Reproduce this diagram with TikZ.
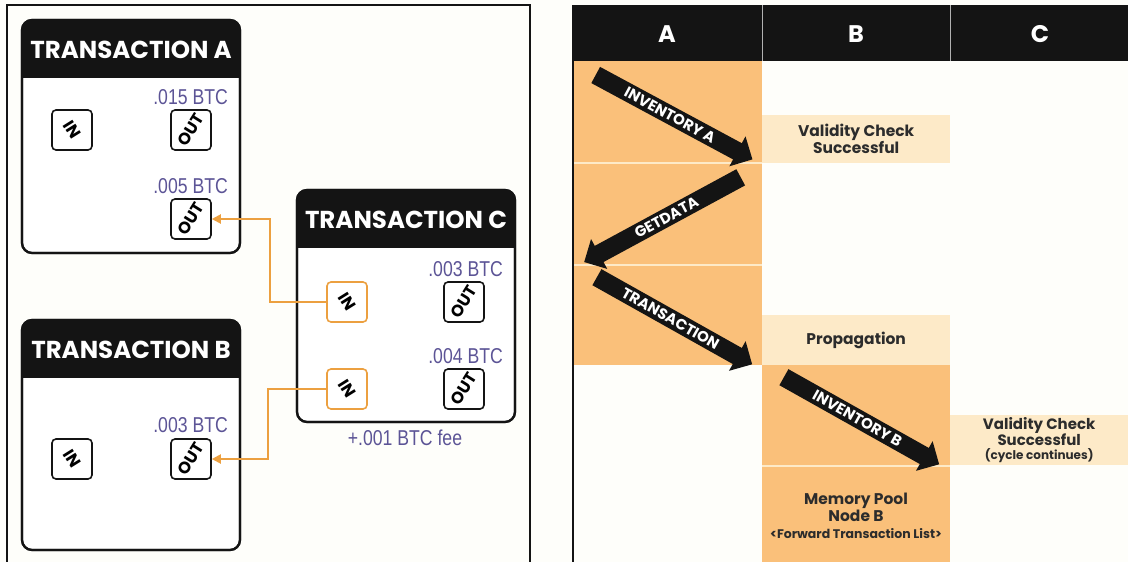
\documentclass[tikz,border=0pt]{standalone}
\usepackage{fontspec}
\setmainfont{Poppins}
\newfontfamily\btcfont[FakeStretch=0.82]{Liberation Sans}
\usetikzlibrary{shapes.arrows,arrows.meta,calc}
\definecolor{bgc}{RGB}{254,254,250}
\definecolor{cellor}{RGB}{250,192,122}
\definecolor{pale}{RGB}{253,234,200}
\definecolor{btc}{RGB}{92,84,150}
\definecolor{orangeln}{RGB}{236,160,64}
\definecolor{ink}{RGB}{20,20,20}
\newcommand\maketx[6]{%
  \node[txbox, minimum width=#4pt, minimum height=#5pt] (#1) at (#2,#3) {};
  \begin{scope}
    \clip[rounded corners=10pt] (#1.north west) rectangle (#1.south east);
    \fill[ink] (#1.north west) rectangle ([yshift=-58pt]#1.north east);
  \end{scope}
  \draw[line width=2.2pt, ink, rounded corners=10pt] (#1.north west) rectangle (#1.south east);
  \node[txtitle] at ([yshift=-30pt]#1.north) {#6};}
\begin{document}
\begin{tikzpicture}[x=1pt,y=-1pt,
  txbox/.style={draw=ink, line width=2.2pt, fill=white, rounded corners=10pt, outer sep=0pt, inner sep=0pt, anchor=north west},
  txtitle/.style={text=white, font=\bfseries\fontsize{24.5}{24.5}\selectfont},
  port/.style={draw=ink, line width=1.6pt, rounded corners=4pt, minimum size=40pt, inner sep=0pt, fill=white, font=\bfseries\fontsize{16.5}{16.5}\selectfont},
  oport/.style={port, draw=orangeln},
  btclab/.style={text=btc, font=\btcfont\fontsize{21.5}{21.5}\selectfont, anchor=base east, inner sep=0pt},
  wire/.style={draw=orangeln, line width=2pt, -{Triangle[length=9pt,width=9pt]}},
  palecell/.style={fill=pale, anchor=north west, inner sep=0pt, align=center, text=ink!90, font=\bfseries\fontsize{15.5}{16}\selectfont},
  colhead/.style={text=white, font=\bfseries\fontsize{24}{24}\selectfont},
  bigarrow/.style={single arrow, fill=ink, text=white, font=\bfseries\fontsize{15}{15}\selectfont, minimum height=178pt, minimum width=34pt, single arrow head extend=6pt, single arrow head indent=0pt, inner sep=1.5pt, sloped, midway},
]
\useasboundingbox (0,0) rectangle (1128,562);
\fill[bgc] (0,0) rectangle (1128,562);

% ---------------- left panel ----------------
\draw[ink, line width=2pt] (7,562) -- (7,5) -- (530,5) -- (530,562);

\maketx{TA}{22}{20}{218}{233}{TRANSACTION A}
\maketx{TB}{22}{320}{218}{230}{TRANSACTION B}
\maketx{TC}{297}{190}{218}{232}{TRANSACTION C}

\node[port] (AIn) at (72,130) {\rotatebox{-58}{IN}};
\node[port] (AO1) at (191,130) {\rotatebox{58}{OUT}};
\node[port] (AO2) at (191,219) {\rotatebox{58}{OUT}};
\node[btclab] (LA1) at (228,104) {.015 BTC};
\node[btclab] (LA2) at (228,193) {.005 BTC};

\node[port] (BIn) at (72,459) {\rotatebox{-58}{IN}};
\node[port] (BO) at (191,459) {\rotatebox{58}{OUT}};
\node[btclab] (LB1) at (228,432) {.003 BTC};

\node[oport] (CI1) at (347,302) {\rotatebox{-58}{IN}};
\node[oport] (CI2) at (347,389) {\rotatebox{-58}{IN}};
\node[port] (CO1) at (464,302) {\rotatebox{58}{OUT}};
\node[port] (CO2) at (464,389) {\rotatebox{58}{OUT}};
\node[btclab] (LC1) at (503,276) {.003 BTC};
\node[btclab] (LC2) at (503,363) {.004 BTC};
\node[btclab, anchor=base] (FEE) at (405,445) {+.001 BTC fee};

\coordinate (j1) at (270,0);
\coordinate (j2) at (268,0);
\draw[wire] (CI1.west) -- (CI1.west -| j1) |- (AO2.east);
\draw[wire] (CI2.west) -- (CI2.west -| j2) |- (BO.east);

% ---------------- right panel ----------------
\fill[cellor] (573,61) rectangle (762,365);
\draw[pale, line width=2pt] (573,163) -- (762,163);
\draw[pale, line width=2pt] (573,265) -- (762,265);
\fill[cellor] (762,365) rectangle (950,562);
\draw[pale, line width=2pt] (762,466) -- (950,466);

\node[palecell, minimum width=188pt, minimum height=48pt] (VC1) at (762,115) {Validity Check\\Successful};
\node[palecell, minimum width=188pt, minimum height=50pt] (PR) at (762,315) {Propagation};
\node[palecell, minimum width=178pt, minimum height=50pt, font=\bfseries\fontsize{15}{14}\selectfont] (VC2) at (950,415) {Validity Check\\Successful\\{\fontsize{12}{12}\selectfont(cycle continues)}};
\node[align=center, text=ink!90, font=\bfseries\fontsize{15.5}{17}\selectfont] (MP) at (856,516) {Memory Pool\\Node B\\{\fontsize{12.5}{13}\selectfont <Forward Transaction List>}};

\fill[ink] (573,5) rectangle (1128,61);
\draw[gray!60, line width=1pt] (762,5) -- (762,61);
\draw[gray!60, line width=1pt] (950,5) -- (950,61);
\node[colhead] (HA) at (667,34) {A};
\node[colhead] (HB) at (856,34) {B};
\node[colhead] (HC) at (1040,34) {C};
\draw[ink, line width=2.5pt] (573,5) -- (573,562);

\coordinate (iaT) at (592,73);  \coordinate (iaH) at (748,157);
\coordinate (gdH) at (588,260); \coordinate (gdT) at (745,175);
\coordinate (trT) at (593,275); \coordinate (trH) at (748,362);
\coordinate (ibT) at (780,375); \coordinate (ibH) at (935,462);
\path (iaT) -- (iaH) node[bigarrow] (ARIA) {INVENTORY A};
\path (gdH) -- (gdT) node[bigarrow, shape border rotate=180] (ARGD) {GETDATA};
\path (trT) -- (trH) node[bigarrow] (ARTR) {TRANSACTION};
\path (ibT) -- (ibH) node[bigarrow] (ARIB) {INVENTORY B};
\end{tikzpicture}
\end{document}
